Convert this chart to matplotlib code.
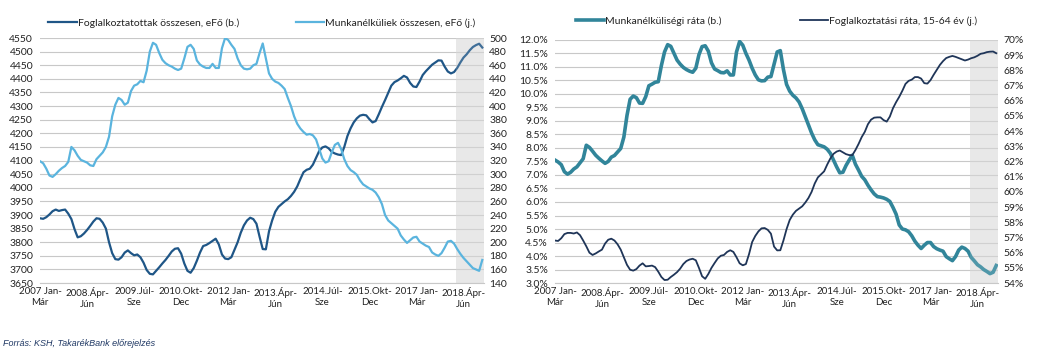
import numpy as np
import matplotlib
matplotlib.use('Agg')
from matplotlib import pyplot as plt

plt.rcParams['font.family'] = ['Lato', 'DejaVu Sans']

# monthly 3-month rolling data, 2007 Jan-Már ... 2018 Okt-Dec
employed = [3888, 3886, 3892, 3902, 3914, 3920, 3915, 3918, 3920, 3905,
            3885, 3848, 3818, 3822, 3832, 3845, 3860, 3876, 3888, 3886,
            3872, 3850, 3800, 3760, 3738, 3736, 3745, 3762, 3770, 3760,
            3752, 3755, 3745, 3725, 3698, 3684, 3682, 3695, 3708, 3722,
            3735, 3750, 3766, 3776, 3778, 3758, 3722, 3695, 3688, 3705,
            3732, 3762, 3786, 3790, 3797, 3805, 3813, 3792, 3755, 3740,
            3738, 3745, 3772, 3800, 3835, 3862, 3880, 3890, 3885, 3868,
            3820, 3775, 3774, 3840, 3880, 3912, 3930, 3940, 3950, 3958,
            3970, 3985, 4005, 4032, 4057, 4066, 4070, 4085, 4110, 4135,
            4148, 4152, 4145, 4132, 4126, 4122, 4120, 4150, 4190, 4218,
            4240, 4255, 4265, 4268, 4266, 4252, 4240, 4245, 4270, 4297,
            4322, 4348, 4375, 4388, 4394, 4402, 4411, 4405, 4385, 4372,
            4370, 4390, 4414, 4428, 4440, 4452, 4460, 4468, 4467, 4445,
            4427, 4420, 4425, 4440, 4460, 4478, 4490, 4505, 4517, 4524,
            4529, 4515]

unemployed = [319, 316, 308, 298, 296, 300, 305, 309, 312, 318,
              340, 335, 327, 321, 319, 317, 313, 312, 322, 327,
              332, 340, 355, 385, 402, 412, 409, 402, 405, 422,
              430, 432, 437, 435, 452, 480, 493, 490, 478, 468,
              463, 460, 458, 455, 453, 455, 470, 487, 490, 484,
              467, 461, 458, 456, 456, 462, 456, 456, 485, 500,
              497, 490, 484, 470, 460, 455, 454, 455, 460, 462,
              478, 492, 470, 448, 440, 436, 434, 430, 425, 412,
              400, 385, 374, 367, 362, 358, 359, 357, 351, 337,
              323, 317, 319, 332, 343, 346, 337, 322, 312, 306,
              303, 299, 291, 285, 282, 279, 277, 273, 266, 256,
              240, 232, 228, 224, 220, 210, 204, 199, 203, 207,
              208, 201, 198, 195, 193, 185, 182, 180, 184, 192,
              201, 202, 198, 190, 183, 177, 172, 167, 162, 160,
              158, 174]

unemp_rate = [7.55, 7.48, 7.38, 7.12, 7.03, 7.10, 7.22, 7.30, 7.45, 7.60,
              8.10, 8.02, 7.88, 7.73, 7.62, 7.52, 7.43, 7.50, 7.66, 7.72,
              7.85, 7.98, 8.40, 9.20, 9.80, 9.92, 9.86, 9.66, 9.65, 9.90,
              10.30, 10.36, 10.43, 10.45, 11.05, 11.55, 11.82, 11.76, 11.50, 11.25,
              11.10, 10.98, 10.90, 10.84, 10.80, 10.95, 11.45, 11.75, 11.78, 11.58,
              11.15, 10.92, 10.86, 10.79, 10.78, 10.85, 10.70, 10.70, 11.55, 11.94,
              11.80, 11.50, 11.25, 10.95, 10.70, 10.52, 10.48, 10.49, 10.62, 10.64,
              11.10, 11.55, 11.60, 10.90, 10.35, 10.10, 9.95, 9.85, 9.70, 9.45,
              9.15, 8.85, 8.55, 8.30, 8.12, 8.08, 8.04, 7.95, 7.80, 7.55,
              7.30, 7.08, 7.10, 7.35, 7.55, 7.73, 7.40, 7.18, 6.95, 6.82,
              6.62, 6.45, 6.30, 6.20, 6.18, 6.15, 6.10, 6.02, 5.80, 5.55,
              5.15, 5.00, 4.97, 4.90, 4.75, 4.55, 4.40, 4.28, 4.40, 4.50,
              4.50, 4.35, 4.27, 4.22, 4.18, 3.98, 3.90, 3.83, 3.98, 4.22,
              4.33, 4.28, 4.18, 3.95, 3.82, 3.68, 3.60, 3.50, 3.43, 3.35,
              3.40, 3.65]

emp_rate = [56.80, 56.77, 56.95, 57.22, 57.30, 57.30, 57.26, 57.33, 57.15, 56.80,
            56.42, 56.00, 55.85, 55.95, 56.08, 56.20, 56.60, 56.85, 56.92, 56.80,
            56.55, 56.20, 55.70, 55.20, 54.88, 54.82, 54.92, 55.15, 55.30, 55.10,
            55.12, 55.15, 55.05, 54.75, 54.40, 54.20, 54.22, 54.40, 54.55, 54.72,
            54.95, 55.25, 55.45, 55.55, 55.60, 55.50, 55.00, 54.45, 54.28, 54.60,
            55.00, 55.32, 55.62, 55.80, 55.85, 56.05, 56.16, 56.05, 55.70, 55.30,
            55.17, 55.25, 55.90, 56.70, 57.10, 57.40, 57.60, 57.62, 57.50, 57.25,
            56.40, 56.15, 56.16, 56.80, 57.55, 58.15, 58.50, 58.75, 58.90, 59.05,
            59.30, 59.60, 60.00, 60.55, 60.95, 61.15, 61.35, 61.80, 62.20, 62.50,
            62.65, 62.72, 62.60, 62.48, 62.42, 62.41, 62.75, 63.15, 63.60, 63.95,
            64.45, 64.75, 64.88, 64.90, 64.90, 64.72, 64.62, 64.95, 65.50, 65.90,
            66.25, 66.65, 67.10, 67.30, 67.38, 67.55, 67.55, 67.45, 67.15, 67.12,
            67.35, 67.70, 68.02, 68.35, 68.60, 68.80, 68.88, 68.94, 68.88, 68.80,
            68.72, 68.64, 68.70, 68.79, 68.85, 68.95, 69.08, 69.12, 69.19, 69.22,
            69.23, 69.12]

tick_labels = ['2007 Jan-\nMár', '2008.Ápr-\nJún', '2009.Júl-\nSze', '2010.Okt-\nDec',
               '2012 Jan-\nMár', '2013.Ápr-\nJún', '2014.Júl-\nSze', '2015.Okt-\nDec',
               '2017 Jan-\nMár', '2018.Ápr-\nJún']
forecast_start = 132.5

x = np.arange(len(employed))
ticks = np.arange(0, len(employed), 15)
grid_c = '#c8c8c8'
fs = 7.5
text_c = '#222222'


def style(ax, ax2):
    ax.set_xlim(0, len(employed) - 0.5)
    ax.set_xticks(ticks)
    ax.set_xticklabels(tick_labels, fontsize=7, color=text_c)
    ax.grid(axis='y', color=grid_c, linewidth=0.8)
    ax.set_axisbelow(True)
    for s in ['top', 'left', 'right']:
        ax.spines[s].set_visible(False)
        ax2.spines[s].set_visible(False)
    ax.spines['bottom'].set_color(grid_c)
    ax2.spines['bottom'].set_visible(False)
    ax.tick_params(axis='y', length=0, pad=5, labelsize=fs, labelcolor=text_c)
    ax.tick_params(axis='x', length=0, pad=3)
    ax2.tick_params(length=0, pad=4, labelsize=fs, labelcolor=text_c)
    ax.axvspan(forecast_start, len(employed) - 0.5, color='#e4e4e4', zorder=0, lw=0)


fig = plt.figure(figsize=(10.37, 3.62), dpi=100)

# left chart
ax1 = fig.add_axes([0.0386, 0.218, 0.428, 0.677])
ax1b = ax1.twinx()
style(ax1, ax1b)
l1, = ax1.plot(x, employed, color='#1f5687', lw=1.6)
l2, = ax1b.plot(x, unemployed, color='#5ab4de', lw=1.6)
ax1b.axvspan(forecast_start, len(employed) - 0.5, color='white', alpha=0.15, lw=0)
ax1.set_ylim(3650, 4550)
ax1.set_yticks(np.arange(3650, 4551, 50))
ax1b.set_ylim(140, 500)
ax1b.set_yticks(np.arange(140, 501, 20))
ax1.legend([l1, l2], ['Foglalkoztatottak összesen, eFő (b.)', 'Munkanélküliek összesen, eFő (j.)'],
           loc='lower center', bbox_to_anchor=(0.5, 1.02), ncol=2, frameon=False,
           fontsize=fs, handlelength=2.7, handletextpad=0.1, columnspacing=5.5, borderpad=0,
           labelcolor=text_c)

# right chart
ax2 = fig.add_axes([0.5352, 0.218, 0.427, 0.672])
ax2b = ax2.twinx()
style(ax2, ax2b)
l3, = ax2.plot(x, unemp_rate, color='#31859a', lw=2.6)
l4, = ax2b.plot(x, emp_rate, color='#1f3558', lw=1.3)
ax2b.axvspan(forecast_start, len(employed) - 0.5, color='white', alpha=0.15, lw=0)
ax2.set_ylim(3.0, 12.0)
ax2.set_yticks(np.arange(3.0, 12.01, 0.5))
ax2.set_yticklabels(['%.1f%%' % v for v in np.arange(3.0, 12.01, 0.5)])
ax2b.set_ylim(54, 70)
ax2b.set_yticks(np.arange(54, 71, 1))
ax2b.set_yticklabels(['%d%%' % v for v in np.arange(54, 71, 1)])
ax2.legend([l3, l4], ['Munkanélküliségi ráta (b.)', 'Foglalkoztatási ráta, 15-64 év (j.)'],
           loc='lower center', bbox_to_anchor=(0.5, 1.035), ncol=2, frameon=False,
           fontsize=fs, handlelength=2.7, handletextpad=0.1, columnspacing=7.5, borderpad=0,
           labelcolor=text_c)

fig.text(0.003, 0.045, 'Forrás: KSH, TakarékBank előrejelzés', fontsize=6.5, style='italic',
         color='#1f3864', family=['Liberation Sans', 'DejaVu Sans'])

fig.savefig('out.png', dpi=100)
